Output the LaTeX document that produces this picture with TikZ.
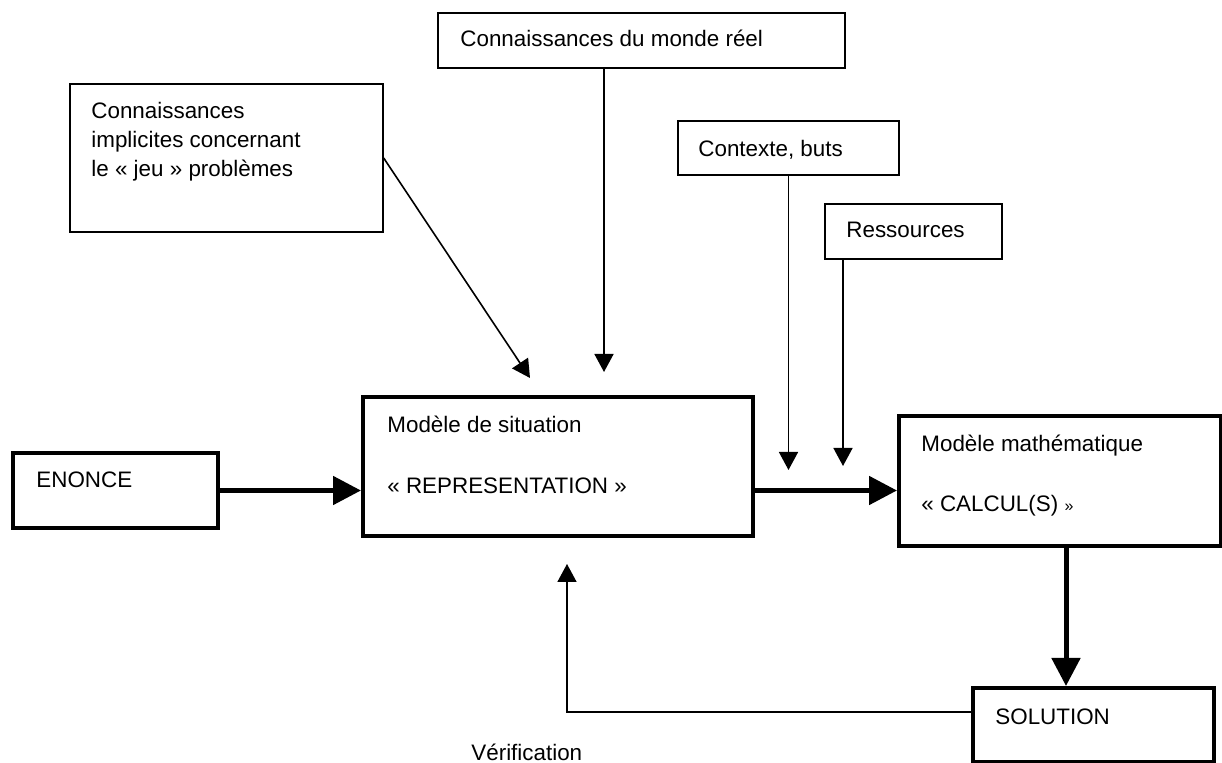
\documentclass[tikz,border=0pt]{standalone}
\usepackage{fontspec}
\setmainfont{Liberation Sans}
\usetikzlibrary{arrows.meta}

\begin{document}
\begin{tikzpicture}[x=0.5pt,y=-0.5pt,
    font=\fontsize{11.2}{14.5}\selectfont,
    feed/.style={line width=0.8pt,-{Triangle[length=9pt,width=9.5pt]}},
    flow/.style={line width=2.5pt,-{Triangle[length=14pt,width=14pt]}}]

      \useasboundingbox (0,0) rectangle (1222,763);

      \begin{scope}[every node/.style={draw, line width=0.7pt, inner sep=0pt}]
        \node[minimum width=203.5pt, minimum height=27.5pt] (reel) at (641.5,40.5) {};
        \node[minimum width=156.5pt, minimum height=74pt]   (impl) at (226.5,158) {};
        \node[minimum width=110.5pt, minimum height=27pt]   (ctx)  at (788.5,148) {};
        \node[minimum width=88.5pt,  minimum height=27.5pt] (res)  at (913.5,231.5) {};
      \end{scope}

      \begin{scope}[every node/.style={draw, line width=2pt, inner sep=0pt}]
        \node[minimum width=102.5pt, minimum height=37.5pt] (enonce) at (115.5,490.5) {};
        \node[minimum width=195pt,   minimum height=69.5pt] (sit)    at (558,466.5) {};
        \node[minimum width=161pt,   minimum height=65pt]   (math)   at (1060,481) {};
        \node[minimum width=120.5pt, minimum height=37pt]   (sol)    at (1093.5,725) {};
      \end{scope}

      \begin{scope}[every node/.style={inner sep=0pt, anchor=base west}]
        \node (reel-t)   at (460,47)  {Connaissances du monde réel};
        \node[anchor=north west, align=left] (impl-t) at (91,102)
          {Connaissances\\implicites concernant\\le « jeu » problèmes};
        \node (ctx-t)    at (698,157) {Contexte, buts};
        \node (res-t)    at (846,238) {Ressources};
        \node (enonce-t) at (36,488)  {ENONCE};
        \node (sit-t1)   at (387,433) {Modèle de situation};
        \node (sit-t2)   at (387,494) {« REPRESENTATION »};
        \node (math-t1)  at (921,452) {Modèle mathématique};
        \node (math-t2)  at (921,512) {« CALCUL(S) {\fontsize{8}{8}\selectfont »}};
        \node (sol-t)    at (995,725) {SOLUTION};
        \node (verif)    at (471,761) {Vérification};
      \end{scope}

      \coordinate (in1)    at (530,378);
      \coordinate (in2)    at (604,372);
      \coordinate (in3)    at (788.5,470);
      \coordinate (in4)    at (843,466);
      \coordinate (corner) at (567,712);
      \coordinate (back)   at (567,564);
      \coordinate (down)   at (1066,0);

      \path[feed] (impl.east)       edge (in1)
                  (reel.south -| in2) edge (in2)
                  (ctx)             edge (in3)
                  (res.south -| in4) edge (in4);

      \path[flow] (enonce.east) edge (enonce.east -| sit.west)
                  (sit.east |- enonce.east) edge (math.west |- enonce.east)
                  (math.south -| down) edge (sol.north -| down);

      \draw[feed] (sol.west |- corner) -- (corner) -- (back);

    \end{tikzpicture}
\end{document}
